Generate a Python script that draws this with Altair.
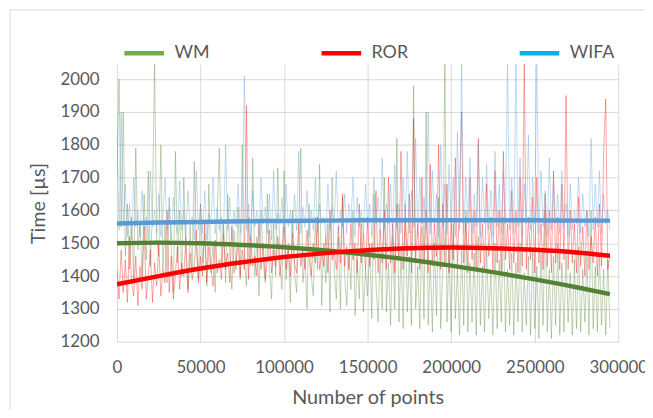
import altair as alt
import pandas as pd

series_names = ["WM", "ROR", "WIFA"]

# sample positions of the raw measurements (every 1250 points)
xs = list(range(0, 296250, 1250))

wm_raw = [
    1700, 2000, 1550, 1900, 1460, 1620, 1420, 1580, 1390, 1790,
    1480, 1560, 1400, 1650, 1450, 1720, 1430, 1600, 2060, 1510,
    1460, 1800, 1420, 1570, 1380, 1640, 1490, 1350, 1780, 1440,
    1600, 1400, 1700, 1460, 1360, 1550, 1420, 1750, 1480, 1390,
    1620, 1440, 1530, 1370, 1680, 1410, 1500, 1350, 1590, 1790,
    1430, 1560, 1380, 1650, 1470, 1360, 1540, 1420, 1610, 1390,
    1800, 1450, 1370, 1580, 1430, 1760, 1400, 1520, 1340, 1600,
    1450, 1380, 1650, 1420, 1330, 1560, 1400, 1730, 1440, 1360,
    1720, 1390, 1500, 1320, 1600, 1410, 1350, 1540, 1790, 1380,
    1460, 1300, 1620, 1400, 1340, 1580, 1420, 1740, 1310, 1500,
    1380, 1560, 1290, 1700, 1420, 1330, 1520, 1300, 1640, 1400,
    1310, 1480, 1360, 1600, 1280, 1450, 1330, 1560, 1290, 1420,
    1340, 1500, 1270, 1650, 1380, 1260, 1470, 1300, 1700, 1290,
    1440, 1250, 1520, 1300, 1820, 1260, 1480, 1240, 1620, 1290,
    1460, 1250, 1980, 1300, 1430, 1240, 1550, 1270, 1900, 1250,
    1450, 1230, 1500, 1280, 1640, 1240, 1420, 2060, 1260, 1480,
    1230, 1560, 1270, 1420, 1220, 1490, 1250, 1600, 1230, 1440,
    1260, 1470, 1220, 1520, 1250, 1430, 1230, 1480, 1270, 1410,
    1220, 1500, 1240, 1450, 1260, 1580, 1230, 1420, 1250, 1470,
    1220, 1440, 1260, 1500, 1230, 1410, 1250, 1460, 1220, 1480,
    1240, 1430, 1210, 1470, 1250, 1600, 1230, 1420, 1210, 1460,
    1250, 1500, 1220, 1440, 1230, 1480, 1260, 1410, 1220, 1450,
    1240, 1490, 1230, 1420, 1260, 1460, 1220, 1600, 1240, 1430,
    1230, 1470, 1250, 1420, 1220, 1450, 1240,
]

ror_raw = [
    1420, 1330, 1480, 1350, 1450, 1320, 1520, 1380, 1340, 1460,
    1310, 1430, 1360, 1550, 1330, 1400, 1480, 1320, 1440, 1370,
    1500, 1340, 1420, 1380, 1600, 1350, 1460, 1330, 1410, 1490,
    1360, 1440, 1400, 1520, 1350, 1470, 1390, 1430, 1540, 1380,
    1460, 1400, 1560, 1380, 1490, 1420, 1370, 1510, 1410, 1450,
    1390, 1530, 1420, 1470, 1380, 1550, 1410, 1440, 1500, 1400,
    1480, 1420, 1920, 1390, 1520, 1430, 1460, 1400, 1560, 1420,
    1500, 1390, 1450, 1540, 1410, 1480, 1430, 1520, 1400, 1470,
    1550, 1420, 1490, 1400, 1530, 1440, 1410, 1570, 1430, 1480,
    1420, 1540, 1450, 1400, 1500, 1440, 1580, 1420, 1470, 1430,
    1520, 1410, 1600, 1450, 1480, 1420, 1550, 1440, 1650, 1430,
    1490, 1420, 1560, 1450, 1500, 1410, 1620, 1440, 1530, 1420,
    1580, 1430, 1500, 1450, 1660, 1410, 1540, 1440, 1600, 1420,
    1700, 1440, 1560, 1410, 1620, 1450, 1780, 1420, 1580, 1460,
    1650, 1410, 1880, 1440, 1560, 1420, 1700, 1450, 1600, 1410,
    1740, 1430, 1560, 1460, 1800, 1420, 1620, 1440, 1680, 1410,
    1560, 1450, 1760, 1420, 1640, 1900, 1440, 1580, 1410, 1700,
    1450, 1600, 1420, 1820, 1440, 1560, 1410, 1680, 1460, 1580,
    1420, 1720, 1440, 1600, 1410, 1780, 1450, 1560, 1420, 1660,
    1440, 1600, 1410, 1700, 1430, 2060, 1420, 1580, 1450, 1640,
    1410, 1700, 1440, 1560, 1420, 1650, 1430, 1600, 1410, 1720,
    1440, 1580, 1420, 1680, 1450, 1950, 1420, 1600, 1440, 1560,
    1410, 1640, 1430, 1550, 1400, 1600, 1420, 1520, 1440, 1580,
    1400, 1620, 1430, 1780, 1940, 1420, 1460,
]

wifa_raw = [
    1850, 1540, 1900, 1560, 1680, 1520, 1620, 1510, 1700, 1550,
    1600, 1520, 1660, 1540, 1580, 1510, 1720, 1550, 1600, 1530,
    1650, 1520, 1580, 1700, 1540, 1610, 1510, 1640, 1560, 1530,
    1690, 1540, 1600, 1520, 1660, 1550, 1580, 1510, 1720, 1540,
    1620, 1530, 1660, 1510, 1590, 1560, 1700, 1530, 1610, 1540,
    1580, 1520, 1800, 1540, 1640, 1510, 1600, 1550, 1680, 1530,
    1590, 2010, 1540, 1620, 1510, 1660, 1550, 1600, 1520, 1700,
    1560, 1610, 1530, 1650, 1510, 1720, 1540, 1590, 1560, 1640,
    1530, 1680, 1550, 1600, 1520, 1650, 1540, 1780, 1530, 1610,
    1550, 1660, 1520, 1600, 1540, 1700, 1530, 1620, 1560, 1580,
    1520, 1680, 1540, 1610, 1560, 1720, 1530, 1600, 1550, 1650,
    1530, 1620, 1560, 1700, 1520, 1640, 1550, 1600, 1530, 1680,
    1550, 1620, 1520, 1700, 1560, 1640, 1530, 1760, 1540, 1620,
    1560, 1680, 1520, 1740, 1550, 1620, 1530, 1700, 1560, 1780,
    1530, 1660, 1550, 1820, 1520, 1700, 1560, 1640, 1540, 1900,
    1530, 1720, 1560, 1650, 1520, 1800, 1550, 1680, 1530, 1740,
    1560, 1700, 1520, 1840, 1540, 2060, 1530, 1700, 1560, 1760,
    1530, 1650, 1550, 1800, 1520, 1700, 1560, 1740, 1540, 1660,
    1520, 1780, 1550, 1680, 1530, 1720, 1560, 2060, 1540, 1700,
    1530, 2060, 1550, 1760, 1520, 1680, 1560, 1830, 1540, 1700,
    1560, 2060, 1530, 1720, 1550, 1660, 1520, 1760, 1540, 1690,
    1560, 1650, 1530, 1720, 1550, 1620, 1520, 1680, 1540, 1600,
    1560, 1700, 1530, 1650, 1550, 1600, 1520, 1820, 1540, 1680,
    1550, 1720, 1530, 1650, 1560, 1600, 1540,
]

trend_x = [0, 25000, 50000, 75000, 100000, 125000, 150000, 175000,
           200000, 225000, 250000, 275000, 295000]
wm_trend = [1500, 1502, 1500, 1495, 1488, 1478, 1465, 1450, 1432, 1412, 1390, 1366, 1345]
ror_trend = [1375, 1400, 1423, 1442, 1458, 1470, 1479, 1485, 1487, 1485, 1480, 1472, 1462]
wifa_trend = [1560, 1563, 1565, 1567, 1568, 1569, 1570, 1570, 1570, 1570, 1570, 1569, 1569]

x_ticks = [0, 50000, 100000, 150000, 200000, 250000, 300000]
y_ticks = [1200, 1300, 1400, 1500, 1600, 1700, 1800, 1900, 2000]

line_colors = ["#548235", "#FF0000", "#5B9BD5"]
legend_colors = ["#70AD47", "#FF0000", "#00B0F0"]

raw_rows = []
for name, vals in zip(series_names, [wm_raw, ror_raw, wifa_raw]):
    for x, v in zip(xs, vals):
        raw_rows.append({"series": name, "x": x, "y": v})
raw_df = pd.DataFrame(raw_rows)

trend_rows = []
for name, vals in zip(series_names, [wm_trend, ror_trend, wifa_trend]):
    for x, v in zip(trend_x, vals):
        trend_rows.append({"series": name, "x": x, "y": v})
trend_df = pd.DataFrame(trend_rows)

FONT = "Lato"
GREY = "#595959"

x_enc = alt.X(
    "x:Q",
    scale=alt.Scale(domain=[0, 300000], nice=False, zero=False),
    axis=alt.Axis(
        values=x_ticks, format="d", title="Number of points",
        grid=True, gridColor="#d9d9d9", ticks=False, domain=False,
        labelFont=FONT, labelFontSize=17, labelColor=GREY, labelPadding=18,
        labelFlush=False, labelOverlap=False,
        titleFont=FONT, titleFontSize=20, titleColor=GREY,
        titleFontWeight="normal", titlePadding=12,
    ),
)
y_enc = alt.Y(
    "y:Q",
    scale=alt.Scale(domain=[1200, 2045], nice=False, zero=False),
    axis=alt.Axis(
        values=y_ticks, format="d", title="Time [µs]",
        grid=True, gridColor="#d9d9d9", ticks=False, domain=False,
        labelFont=FONT, labelFontSize=17, labelColor=GREY, labelPadding=18,
        labelFlush=False,
        titleFont=FONT, titleFontSize=20, titleColor=GREY,
        titleFontWeight="normal", titlePadding=12,
    ),
)

frame = alt.Chart(pd.DataFrame({"a": [0]})).mark_rect(
    fillOpacity=0, stroke="#d9d9d9", strokeWidth=1, clip=False
).encode(
    x=alt.value(-108), x2=alt.value(600), y=alt.value(-55), y2=alt.value(420)
)

raw = alt.Chart(raw_df).mark_line(strokeWidth=1, opacity=0.36, clip=True).encode(
    x=x_enc, y=y_enc,
    color=alt.Color("series:N", sort=series_names,
                    scale=alt.Scale(domain=series_names, range=line_colors),
                    legend=None),
)

legend_layer = alt.Chart(trend_df).mark_line(strokeWidth=2, clip=True).encode(
    x=x_enc, y=y_enc,
    color=alt.Color(
        "series:N", sort=series_names,
        scale=alt.Scale(domain=series_names, range=legend_colors),
        legend=alt.Legend(
            title=None, orient="none", legendX=5, legendY=-34,
            direction="horizontal", symbolType="stroke", symbolSize=1600,
            symbolStrokeWidth=4.5, symbolOpacity=1,
            labelFont=FONT, labelFontSize=18, labelColor=GREY, labelOffset=8,
            columnPadding=103, padding=0,
        ),
    ),
)

trend = alt.Chart(trend_df).mark_line(strokeWidth=4.5, interpolate="monotone", clip=True).encode(
    x=x_enc, y=y_enc,
    color=alt.Color("series:N", sort=series_names,
                    scale=alt.Scale(domain=series_names, range=line_colors),
                    legend=None),
)

chart = alt.layer(frame, raw, legend_layer, trend).resolve_scale(
    color="independent"
).properties(
    width=506, height=280,
    autosize=alt.AutoSizeParams(type="none"),
    padding={"left": 110, "top": 55, "right": 27, "bottom": 67},
    background="white",
).configure_view(stroke=None)

chart.save("out.html", embed_options={"renderer": "svg", "actions": False})
